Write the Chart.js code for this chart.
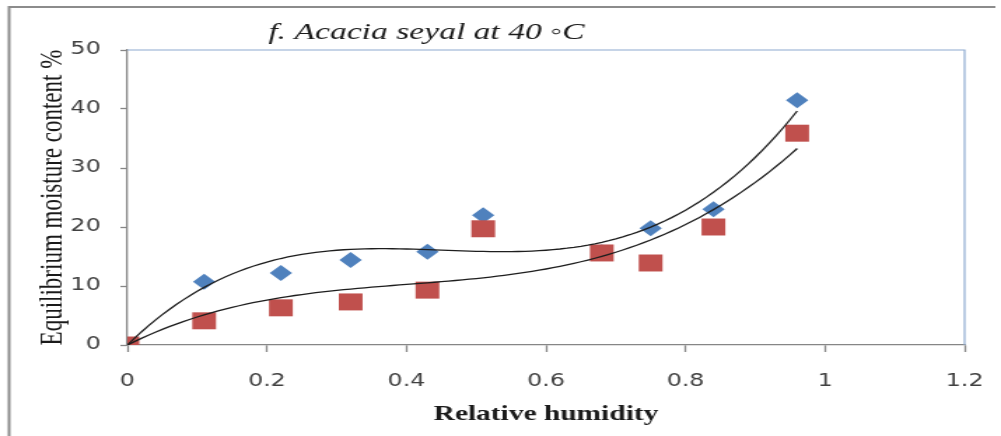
<!DOCTYPE html>
<html>
<head>
<meta charset="utf-8">
<script src="https://cdn.jsdelivr.net/npm/chart.js@4.4.1/dist/chart.umd.min.js"></script>
<style>
  html, body { margin: 0; padding: 0; background: #fff; overflow: hidden; }
  #chart { transform: scaleX(1.4); transform-origin: 0 0; }
</style>
</head>
<body>
<canvas id="chart" width="715" height="436"></canvas>
<script>
// relative humidity (water activity) of the salt solutions
const humidity = [0, 0.11, 0.22, 0.32, 0.43, 0.51, 0.68, 0.75, 0.84, 0.96];
// equilibrium moisture content %, two series
const emcBlue = [0, 10.7, 12.2, 14.4, 15.8, 22.0, 15.7, 19.8, 23.0, 41.5];
const emcRed = [0, 4.1, 6.3, 7.3, 9.3, 19.7, 15.6, 13.9, 20.0, 35.9];

const xTicks = [0, 0.2, 0.4, 0.6, 0.8, 1, 1.2];
const yTicks = [0, 10, 20, 30, 40, 50];

// cubic trendline through the origin, least squares on x, x^2, x^3
function polyFit(xs, ys) {
  const pw = [1, 2, 3];
  const n = pw.length;
  const m = pw.map(r => {
    const row = pw.map(c => xs.reduce((s, x) => s + Math.pow(x, r + c), 0));
    row.push(xs.reduce((s, x, i) => s + ys[i] * Math.pow(x, r), 0));
    return row;
  });
  for (let i = 0; i < n; i++) {
    for (let k = 0; k < n; k++) {
      if (k === i) continue;
      const f = m[k][i] / m[i][i];
      for (let c = i; c <= n; c++) m[k][c] -= f * m[i][c];
    }
  }
  return m.map((row, i) => row[n] / row[i]);
}

function trend(ys) {
  const coef = polyFit(humidity, ys);
  const pts = [];
  const x0 = humidity[0], x1 = humidity[humidity.length - 1];
  for (let i = 0; i <= 96; i++) {
    const x = x0 + (x1 - x0) * i / 96;
    pts.push({ x: x, y: coef[0] * x + coef[1] * x * x + coef[2] * x * x * x });
  }
  return pts;
}

const pairs = ys => humidity.map((x, i) => ({ x: x, y: ys[i] }));

// frame, plot border and the italic caption
const decor = {
  id: 'decor',
  beforeDraw(chart) {
    const ctx = chart.ctx;
    ctx.save();
    ctx.strokeStyle = '#8c8c8c';
    ctx.lineWidth = 2;
    ctx.beginPath();
    ctx.moveTo(6.5, 440);
    ctx.lineTo(6.5, 7);
    ctx.lineTo(711, 7);
    ctx.stroke();
    ctx.restore();
  },
  afterDraw(chart) {
    const ctx = chart.ctx;
    const a = chart.chartArea;
    ctx.save();
    ctx.strokeStyle = '#8eaad0';
    ctx.lineWidth = 1.2;
    ctx.beginPath();
    ctx.moveTo(a.left, a.top);
    ctx.lineTo(a.right, a.top);
    ctx.lineTo(a.right, a.bottom);
    ctx.stroke();
    ctx.fillStyle = '#1a1a1a';
    ctx.font = 'italic 24px "Liberation Serif"';
    ctx.textAlign = 'center';
    ctx.textBaseline = 'alphabetic';
    ctx.fillText('f. Acacia seyal at 40 \u25E6C', 304.6, 39);
    ctx.restore();
  }
};

new Chart(document.getElementById('chart'), {
  type: 'scatter',
  data: {
    datasets: [
      {
        data: trend(emcBlue), showLine: true, pointRadius: 0,
        borderColor: '#1e1e1e', borderWidth: 1.3, order: 0
      },
      {
        data: trend(emcRed), showLine: true, pointRadius: 0,
        borderColor: '#1e1e1e', borderWidth: 1.3, order: 0
      },
      {
        data: pairs(emcRed), pointStyle: 'rect', pointRadius: 12,
        backgroundColor: '#C0504D', borderColor: '#C0504D', borderWidth: 0, order: 1
      },
      {
        data: pairs(emcBlue), pointStyle: 'rectRot', pointRadius: 8,
        backgroundColor: '#4F81BD', borderColor: '#4F81BD', borderWidth: 0, order: 2
      }
    ]
  },
  options: {
    responsive: false,
    animation: false,
    devicePixelRatio: 1,
    layout: { padding: { top: 50, right: 26, left: 0, bottom: 0 } },
    plugins: {
      legend: { display: false },
      tooltip: { enabled: false }
    },
    scales: {
      x: {
        type: 'linear',
        min: 0,
        max: 1.2,
        afterBuildTicks: s => { s.ticks = xTicks.map(v => ({ value: v })); },
        afterFit: s => { s.height = 91; s.paddingLeft = 0; s.paddingRight = 0; },
        border: { color: '#868686', width: 1.3 },
        grid: { drawOnChartArea: false, drawTicks: true, tickLength: 7, color: '#868686', tickWidth: 1.3 },
        ticks: {
          color: '#404040',
          font: { family: '"DejaVu Sans"', size: 17 },
          padding: 19,
          maxRotation: 0,
          callback: v => String(v)
        },
        title: {
          display: true,
          text: 'Relative humidity',
          color: '#1a1a1a',
          font: { family: '"Liberation Serif"', size: 21, weight: 'bold' },
          padding: { top: 0, bottom: 9 }
        }
      },
      y: {
        min: 0,
        max: 50,
        afterBuildTicks: s => { s.ticks = yTicks.map(v => ({ value: v })); },
        afterFit: s => { s.width = 91; },
        border: { color: '#868686', width: 1.3 },
        grid: { drawOnChartArea: false, drawTicks: true, tickLength: 5, color: '#868686', tickWidth: 1.3 },
        ticks: {
          color: '#404040',
          font: { family: '"DejaVu Sans"', size: 17 },
          padding: 14
        },
        title: {
          display: true,
          text: 'Equilibrium moisture content %',
          color: '#1a1a1a',
          font: { family: '"Liberation Serif"', size: 23 },
          padding: { top: 24, bottom: 0 }
        }
      }
    }
  },
  plugins: [decor]
});
</script>
</body>
</html>
